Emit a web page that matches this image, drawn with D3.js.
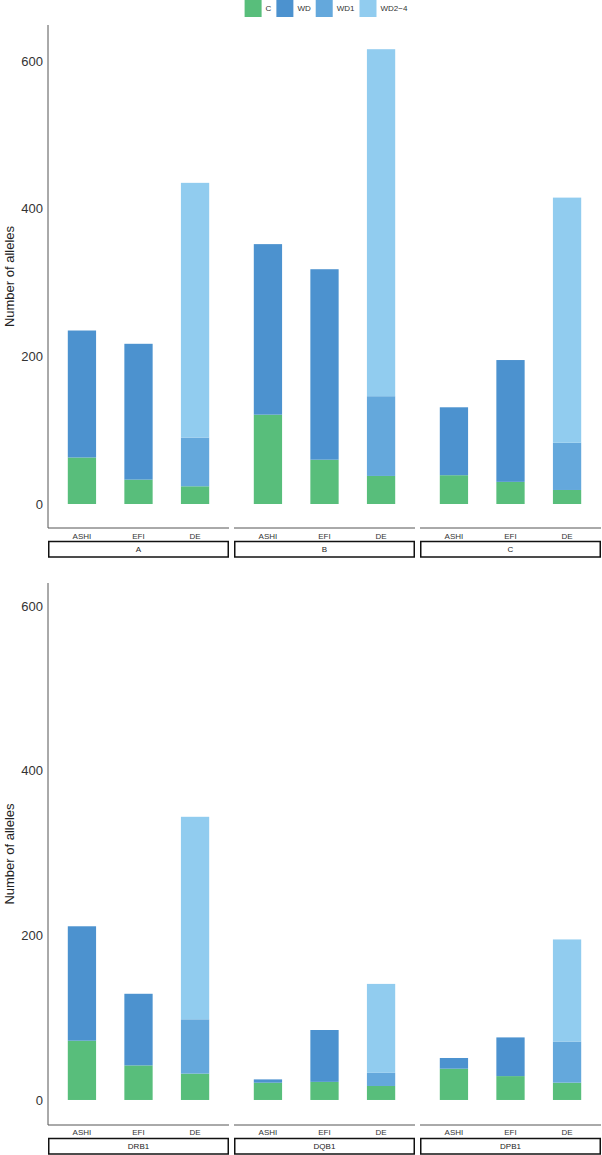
<!DOCTYPE html>
<html>
<head>
<meta charset="utf-8">
<script src="https://cdn.jsdelivr.net/npm/d3@7"></script>
<style>
  body { margin: 0; background: #fff; }
  svg { display: block; }
</style>
</head>
<body>
<div id="chart"></div>
<script>
// values (locus-major: ASHI, EFI, DE per locus)
var loci = ['A', 'B', 'C', 'DRB1', 'DQB1', 'DPB1'];
var sources = ['ASHI', 'EFI', 'DE'];
var seriesNames = ['C', 'WD', 'WD1', 'WD2\u22124'];

var cCounts    = [63, 33, 24,   121, 60, 38,   39, 30, 19,   72, 42, 32,   21, 22, 17,   38, 29, 21];
var wdCounts   = [172, 184, 0,  231, 258, 0,   92, 165, 0,   139, 87, 0,   4, 63, 0,     13, 47, 0];
var wd1Counts  = [0, 0, 66,     0, 0, 108,     0, 0, 64,     0, 0, 66,     0, 0, 16,     0, 0, 50];
var wd24Counts = [0, 0, 345,    0, 0, 470,     0, 0, 332,    0, 0, 246,    0, 0, 108,    0, 0, 124];

var yTicks = [0, 200, 400, 600];

var width = 602,
    height = 1155;

var colors = ['#58be7b', '#4c92cf', '#64a8dc', '#91ccef'];
var axisColor = '#555',
    textColor = '#333';
var fontFamily = '"Liberation Sans", Arial, Helvetica, sans-serif';

// build rows for the stack
var rows = [];
loci.forEach(function(locus, i) {
  sources.forEach(function(src, j) {
    var k = i * 3 + j;
    var r = { locus: locus, source: src };
    r[seriesNames[0]] = cCounts[k];
    r[seriesNames[1]] = wdCounts[k];
    r[seriesNames[2]] = wd1Counts[k];
    r[seriesNames[3]] = wd24Counts[k];
    rows.push(r);
  });
});

var stacked = d3.stack().keys(seriesNames)(rows);

var svg = d3.select('#chart')
  .append('svg')
  .attr('width', width)
  .attr('height', height);

var color = d3.scaleOrdinal().domain(seriesNames).range(colors);

// two rows of facets, each with its own y scale
var panelRows = [
  { loci: loci.slice(0, 3), top: 25, bottom: 528, domain: [-32.5, 648.8], labelY: 538.5, stripY: 541.5 },
  { loci: loci.slice(3, 6), top: 583, bottom: 1125, domain: [-30.4, 628], labelY: 1135, stripY: 1138.5 }
];

var panelLefts = [48, 234, 420],
    panelWidth = 181,
    stripH = 15.5;

var x = d3.scalePoint().domain(sources).range([0, panelWidth]).padding(0.6);
var barW = x.step() * 0.5;

panelRows.forEach(function(pr) {
  var y = d3.scaleLinear().domain(pr.domain).range([pr.bottom, pr.top]);

  // y axis line and labels
  svg.append('line')
    .attr('x1', panelLefts[0]).attr('x2', panelLefts[0])
    .attr('y1', pr.top).attr('y2', pr.bottom)
    .style('stroke', axisColor).style('stroke-width', 1);

  svg.selectAll(null)
    .data(yTicks)
    .enter().append('text')
    .attr('x', panelLefts[0] - 5)
    .attr('y', function(d) { return y(d); })
    .attr('dy', '0.36em')
    .attr('text-anchor', 'end')
    .attr('font-family', fontFamily)
    .attr('font-size', '13px')
    .attr('fill', textColor)
    .text(function(d) { return d; });

  svg.append('text')
    .attr('transform', 'translate(14,' + (pr.top + pr.bottom) / 2 + ') rotate(-90)')
    .attr('text-anchor', 'middle')
    .attr('font-family', fontFamily)
    .attr('font-size', '13px')
    .attr('fill', '#222')
    .text('Number of alleles');

  pr.loci.forEach(function(locus, pi) {
    var left = panelLefts[pi];
    var g = svg.append('g').attr('transform', 'translate(' + left + ',0)');

    // bars
    stacked.forEach(function(layer) {
      g.selectAll(null)
        .data(layer.filter(function(d) { return d.data.locus === locus && d[1] > d[0]; }))
        .enter().append('rect')
        .attr('x', function(d) { return x(d.data.source) - barW / 2; })
        .attr('width', barW)
        .attr('y', function(d) { return y(d[1]); })
        .attr('height', function(d) { return y(d[0]) - y(d[1]); })
        .style('fill', color(layer.key));
    });

    // x axis line
    g.append('line')
      .attr('x1', 0).attr('x2', panelWidth)
      .attr('y1', pr.bottom).attr('y2', pr.bottom)
      .style('stroke', axisColor).style('stroke-width', 1);

    g.selectAll(null)
      .data(sources)
      .enter().append('text')
      .attr('x', function(d) { return x(d); })
      .attr('y', pr.labelY)
      .attr('text-anchor', 'middle')
      .attr('font-family', fontFamily)
      .attr('font-size', '8px')
      .attr('fill', textColor)
      .text(function(d) { return d; });

    // strip
    g.append('rect')
      .attr('x', 0.75).attr('y', pr.stripY)
      .attr('width', panelWidth - 1.5).attr('height', stripH)
      .style('fill', '#fff')
      .style('stroke', '#111')
      .style('stroke-width', 1.5);

    g.append('text')
      .attr('x', panelWidth / 2)
      .attr('y', pr.stripY + stripH / 2)
      .attr('dy', '0.36em')
      .attr('text-anchor', 'middle')
      .attr('font-family', fontFamily)
      .attr('font-size', '8px')
      .attr('fill', '#222')
      .text(locus);
  });
});

// legend on top, centred over the plot
var legend = svg.append('g');
var keySize = 17,
    gap = 4,
    cursor = 0;
seriesNames.forEach(function(name) {
  legend.append('rect')
    .attr('x', cursor).attr('y', 0)
    .attr('width', keySize).attr('height', keySize)
    .style('fill', color(name));
  var t = legend.append('text')
    .attr('x', cursor + keySize + gap)
    .attr('y', keySize / 2)
    .attr('dy', '0.36em')
    .attr('font-family', fontFamily)
    .attr('font-size', '8px')
    .attr('fill', textColor)
    .text(name);
  cursor += keySize + gap + t.node().getComputedTextLength() + 5;
});
var legendW = cursor - 5;
legend.attr('transform', 'translate(' + (326 - legendW / 2) + ',0)');
</script>
</body>
</html>
